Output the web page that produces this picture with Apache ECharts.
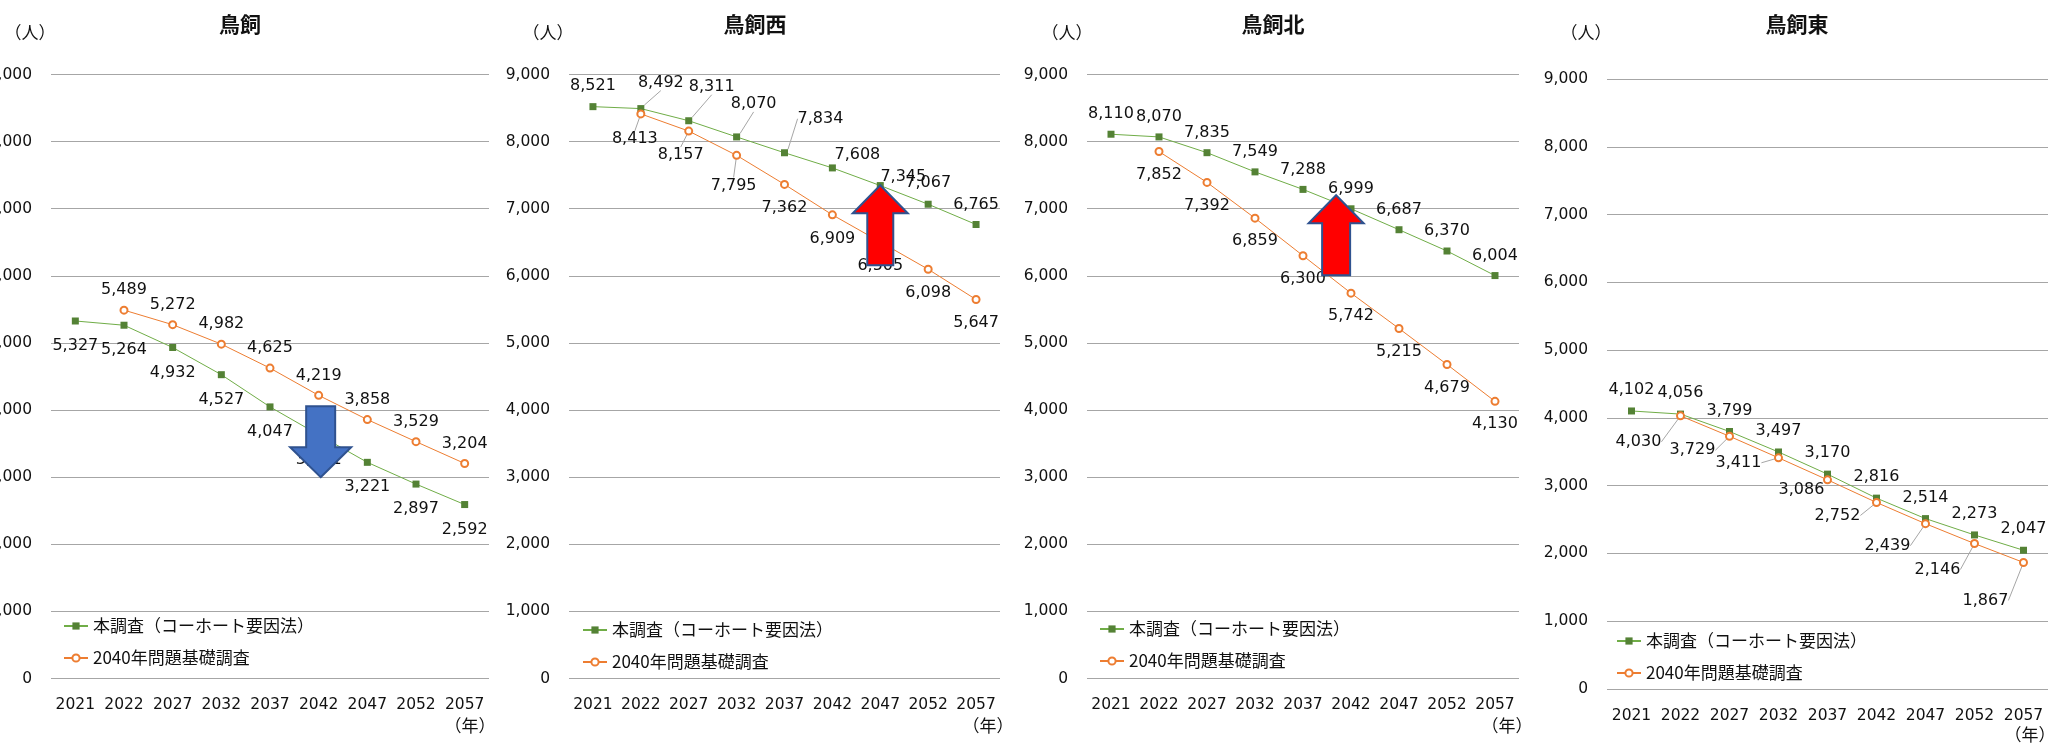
<!DOCTYPE html>
<html>
<head>
<meta charset="utf-8">
<script src="https://cdn.jsdelivr.net/npm/echarts@6/dist/echarts.min.js"></script>
<style>
html,body{margin:0;padding:0;background:#fff;}
#c{width:2049px;height:750px;}
</style>
</head>
<body>
<div id="c"></div>
<script>
// ---------- DATA ----------
const categories = ['2021', '2022', '2027', '2032', '2037', '2042', '2047', '2052', '2057'];
const seriesNames = ['本調査（コーホート要因法）', '2040年問題基礎調査'];
const panelTitles = ['鳥飼', '鳥飼西', '鳥飼北', '鳥飼東'];
const yMin = 0, yMax = 9000, yInterval = 1000;

const torikaiMain  = [5327, 5264, 4932, 4527, 4047, 3631, 3221, 2897, 2592];
const torikaiBase  = [null, 5489, 5272, 4982, 4625, 4219, 3858, 3529, 3204];
const nishiMain    = [8521, 8492, 8311, 8070, 7834, 7608, 7345, 7067, 6765];
const nishiBase    = [null, 8413, 8157, 7795, 7362, 6909, 6505, 6098, 5647];
const kitaMain     = [8110, 8070, 7835, 7549, 7288, 6999, 6687, 6370, 6004];
const kitaBase     = [null, 7852, 7392, 6859, 6300, 5742, 5215, 4679, 4130];
const higashiMain  = [4102, 4056, 3799, 3497, 3170, 2816, 2514, 2273, 2047];
const higashiBase  = [null, 4030, 3729, 3411, 3086, 2752, 2439, 2146, 1867];

// ---------- STYLE / LAYOUT ----------
const FONT = '"Noto Sans CJK JP", "Noto Sans", sans-serif';
const NUMFONT = '"DejaVu Sans", "Noto Sans CJK JP", sans-serif';
const NUMSIZE = 16;
const AXSIZE = 15.5;
const TXT = '#111';
const GRIDC = '#a6a6a6';
const fmt = v => Number(v).toLocaleString('en-US');
const rep = (a, n) => Array.from({length: n}, () => a.slice());

// label centre offsets from each point (px)
const labelOffsets = [
  { main: rep([0, 25], 9), base: rep([0, -20], 9) },
  { main: [[0,-21],[20,-26],[23,-34],[17,-33],[36,-34],[25,-13],[23,-9],[0,-21],[0,-20]],
    base: [[0,0],[-6,25],[-8,24],[-3,30],[0,23],[0,24],[0,24],[0,24],[0,23]] },
  { main: rep([0, -20], 9), base: rep([0, 23], 9) },
  { main: rep([0, -21], 9),
    base: [[0,0],[-42,26],[-37,14],[-40,5],[-26,10],[-39,13],[-38,22],[-37,26],[-38,38]] }
];
// which labels get a leader line
const leaderFlags = [
  { main: [0,0,0,0,0,0,0,0,0], base: [0,0,0,0,0,0,0,0,0] },
  { main: [0,1,1,1,1,0,0,0,0], base: [0,1,1,1,0,0,0,0,0] },
  { main: [0,0,0,0,0,0,0,0,0], base: [0,0,0,0,0,0,0,0,0] },
  { main: [0,0,0,0,0,0,0,0,0], base: [0,1,1,1,0,1,1,1,1] }
];

const layout = [
  { grid: {left: 51,   top: 74.5, width: 438, height: 604}, titleX: 240,  unitX: 30,   yearX: 470,  yearY: 726, legend: {left: 58,   top: 611} },
  { grid: {left: 569,  top: 74.5, width: 431, height: 604}, titleX: 755,  unitX: 548,  yearX: 988,  yearY: 726, legend: {left: 577,  top: 615} },
  { grid: {left: 1087, top: 74.5, width: 432, height: 604}, titleX: 1273, unitX: 1067, yearX: 1507, yearY: 726, legend: {left: 1094, top: 614} },
  { grid: {left: 1607, top: 79,   width: 441, height: 610}, titleX: 1797, unitX: 1586, yearX: 2030, yearY: 735, legend: {left: 1611, top: 626} }
];

const mainSets = [torikaiMain, nishiMain, kitaMain, higashiMain];
const baseSets = [torikaiBase, nishiBase, kitaBase, higashiBase];

const grids = [], xAxes = [], yAxes = [], series = [], legends = [];

layout.forEach((L, i) => {
  grids.push(Object.assign({containLabel: false, outerBoundsMode: 'none'}, L.grid));
  xAxes.push({
    type: 'category', gridIndex: i, data: categories, boundaryGap: true,
    axisLine: {show: false}, axisTick: {show: false}, splitLine: {show: false},
    axisLabel: {fontSize: AXSIZE, color: TXT, fontFamily: NUMFONT, margin: 19, interval: 0}
  });
  yAxes.push({
    type: 'value', gridIndex: i, min: yMin, max: yMax, interval: yInterval,
    axisLine: {show: false}, axisTick: {show: false},
    splitLine: {show: true, lineStyle: {color: GRIDC, width: 1}},
    axisLabel: {fontSize: AXSIZE, color: TXT, fontFamily: NUMFONT, margin: 19, formatter: v => fmt(v)}
  });
  const mk = (name, values, offs, flags, isMain) => ({
    name: name, type: 'line', xAxisIndex: i, yAxisIndex: i,
    data: values.map((v, k) => v == null ? null : {value: v, labelLine: {show: !!flags[k]}}),
    symbol: isMain ? 'rect' : 'emptyCircle', symbolSize: 7, showSymbol: true,
    lineStyle: {color: isMain ? '#70AD47' : '#ED7D31', width: 1},
    itemStyle: isMain ? {color: '#548235'} : {color: '#ED7D31', borderColor: '#ED7D31', borderWidth: 1},
    label: {show: true, position: 'inside', fontSize: NUMSIZE, color: TXT, fontFamily: NUMFONT,
            formatter: p => fmt(p.value)},
    labelLayout: p => { const o = offs[p.dataIndex] || [0, 0]; return {dx: o[0], dy: o[1]}; },
    labelLine: {show: true, lineStyle: {color: '#a6a6a6', width: 1}},
    emphasis: {disabled: true},
    z: isMain ? 3 : 4
  });
  series.push(mk(seriesNames[0], mainSets[i], labelOffsets[i].main, leaderFlags[i].main, true));
  series.push(mk(seriesNames[1], baseSets[i], labelOffsets[i].base, leaderFlags[i].base, false));
  legends.push({
    orient: 'vertical', left: L.legend.left, top: L.legend.top,
    itemWidth: 24, itemHeight: 9, itemGap: 12, selectedMode: false,
    textStyle: {fontSize: 17, color: TXT, fontFamily: FONT, lineHeight: 20},
    data: seriesNames.slice()
  });
});

const chart = echarts.init(document.getElementById('c'), null, {renderer: 'canvas'});
chart.setOption({
  animation: false,
  backgroundColor: '#fff',
  grid: grids, xAxis: xAxes, yAxis: yAxes, series: series, legend: legends
});

// ---------- annotations ----------
const graphics = [];
layout.forEach((L, i) => {
  graphics.push({type: 'text', x: L.titleX, y: 24.5, z: 50,
    style: {text: panelTitles[i], font: 'bold 21px ' + FONT, fill: TXT, textAlign: 'center', textVerticalAlign: 'middle'}});
  graphics.push({type: 'text', x: L.unitX, y: 33, z: 50,
    style: {text: '（人）', font: '17px ' + FONT, fill: TXT, textAlign: 'center', textVerticalAlign: 'middle'}});
  graphics.push({type: 'text', x: L.yearX, y: L.yearY, z: 50,
    style: {text: '（年）', font: '17px ' + FONT, fill: TXT, textAlign: 'center', textVerticalAlign: 'middle'}});
});

function arrow(tip, dir, headH, headHalf, shaftHalf, len, fill, stroke) {
  const [tx, ty] = tip; const s = dir; // s=1 up (body below tip), s=-1 down
  return {
    type: 'polygon', z: 100,
    shape: {points: [
      [tx, ty], [tx + headHalf, ty + s * headH], [tx + shaftHalf, ty + s * headH],
      [tx + shaftHalf, ty + s * len], [tx - shaftHalf, ty + s * len],
      [tx - shaftHalf, ty + s * headH], [tx - headHalf, ty + s * headH]
    ]},
    style: {fill: fill, stroke: stroke, lineWidth: 2, lineJoin: 'miter'}
  };
}
// panel 1: blue down arrow at 2042
const a1 = chart.convertToPixel({gridIndex: 0}, [5, 3000]);
graphics.push(arrow([a1[0] + 2, a1[1]], -1, 30, 30.5, 14.5, 71, '#4472C4', '#2F528F'));
// panel 2: red up arrow at 2047
const a2 = chart.convertToPixel({gridIndex: 1}, [6, 7350]);
graphics.push(arrow(a2, 1, 28, 27.5, 13, 80, '#FF0000', '#2F528F'));
// panel 3: red up arrow between 2037 and 2042
const p4 = chart.convertToPixel({gridIndex: 2}, [4, 7200]);
const p5 = chart.convertToPixel({gridIndex: 2}, [5, 7200]);
const a3 = [p4[0] + (p5[0] - p4[0]) * 0.69, p4[1]];
graphics.push(arrow(a3, 1, 28, 27.5, 14, 80, '#FF0000', '#2F528F'));

chart.setOption({graphic: graphics});
</script>
</body>
</html>
